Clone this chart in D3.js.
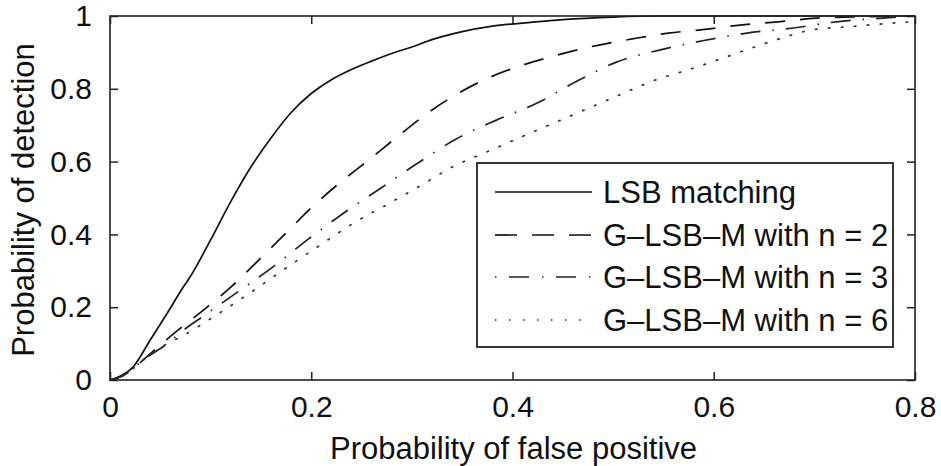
<!DOCTYPE html>
<html>
<head>
<meta charset="utf-8">
<script src="https://cdn.jsdelivr.net/npm/d3@7"></script>
<style>
  html, body { margin: 0; padding: 0; background: #fff; }
  svg { display: block; font-family: "Liberation Sans", Arial, sans-serif; }
</style>
</head>
<body>
<svg id="chart" width="941" height="466"></svg>
<script>
// ---- data ----
const lsbX = [0, .01, .023, .04, .057, .073, .08, .1, .12, .14, .16, .18, .2, .22, .24, .26, .28, .3, .32, .35, .38, .42, .45, .5, .55, .6, .7, .8];
const lsbY = [0, .01, .036, .11, .184, .256, .285, .385, .49, .585, .665, .735, .787, .825, .853, .876, .897, .915, .935, .957, .972, .983, .99, .997, 1, 1, 1, 1];

const n2X = [0, .01, .02, .033, .06, .095, .122, .149, .175, .2, .228, .256, .285, .313, .345, .377, .41, .445, .482, .519, .555, .591, .626, .664, .702, .75, .8];
const n2Y = [0, .008, .025, .055, .12, .197, .26, .333, .404, .473, .541, .602, .667, .728, .786, .831, .865, .893, .918, .937, .953, .963, .975, .984, .994, .998, 1];

const n3X = [0, .01, .02, .033, .057, .073, .093, .126, .163, .197, .233, .269, .306, .344, .384, .424, .462, .504, .547, .589, .633, .679, .722, .768, .8];
const n3Y = [0, .008, .025, .055, .1, .137, .176, .24, .313, .387, .46, .527, .596, .662, .714, .76, .818, .874, .907, .932, .953, .967, .984, .994, 1];

const n6X = [0, .01, .02, .033, .057, .07, .106, .139, .172, .209, .242, .278, .313, .338, .374, .425, .464, .502, .542, .58, .618, .656, .698, .737, .78, .8];
const n6Y = [0, .008, .025, .055, .1, .118, .179, .239, .302, .371, .431, .486, .541, .582, .626, .687, .733, .778, .824, .857, .893, .929, .962, .971, .981, .985];

const seriesNames = ["LSB matching", "G\u2013LSB\u2013M with n = 2", "G\u2013LSB\u2013M with n = 3", "G\u2013LSB\u2013M with n = 6"];
const xTicks = [0, 0.2, 0.4, 0.6, 0.8];
const xTickLabels = ["0", "0.2", "0.4", "0.6", "0.8"];
const yTicks = [0, 0.2, 0.4, 0.6, 0.8, 1];
const yTickLabels = ["0", "0.2", "0.4", "0.6", "0.8", "1"];
const xLabel = "Probability of false positive";
const yLabel = "Probability of detection";

// ---- layout ----
const L = 110, R = 915, T = 16, B = 380;
const svg = d3.select("#chart");
const x = d3.scaleLinear().domain([0, 0.8]).range([L, R]);
const y = d3.scaleLinear().domain([0, 1]).range([B, T]);

const styles = [
  { dash: null, w: 1.7, color: "#111" },
  { dash: "20,15", w: 1.7, color: "#111" },
  { dash: "20,12,1.5,12", w: 1.7, color: "#222" },
  { dash: "1.5,11.5", w: 1.7, color: "#333" }
];
const series = [
  lsbX.map((v, i) => [v, lsbY[i]]),
  n2X.map((v, i) => [v, n2Y[i]]),
  n3X.map((v, i) => [v, n3Y[i]]),
  n6X.map((v, i) => [v, n6Y[i]])
];

const line = d3.line().x(d => x(d[0])).y(d => y(d[1])).curve(d3.curveMonotoneX);

const fs = 30, fsl = 31;
const axisColor = "#222";

const gx = svg.append("g").attr("transform", `translate(0,${B})`)
  .call(d3.axisBottom(x).tickValues(xTicks).tickFormat((d, i) => xTickLabels[i]).tickSizeInner(-8).tickSizeOuter(0).tickPadding(16));
const gy = svg.append("g").attr("transform", `translate(${L},0)`)
  .call(d3.axisLeft(y).tickValues(yTicks).tickFormat((d, i) => yTickLabels[i]).tickSizeInner(-8).tickSizeOuter(0).tickPadding(18));
const gxt = svg.append("g").attr("transform", `translate(0,${T})`)
  .call(d3.axisTop(x).tickValues(xTicks).tickFormat("").tickSizeInner(-8).tickSizeOuter(0));
const gyr = svg.append("g").attr("transform", `translate(${R},0)`)
  .call(d3.axisRight(y).tickValues(yTicks).tickFormat("").tickSizeInner(-8).tickSizeOuter(0));

[gx, gy, gxt, gyr].forEach(g => {
  g.selectAll(".domain").remove();
  g.selectAll(".tick line").attr("stroke", axisColor).attr("stroke-width", 1.5);
  g.selectAll("text").attr("font-size", fs).attr("fill", "#111")
    .attr("font-family", "Liberation Sans, Arial, sans-serif");
});

series.forEach((s, i) => {
  svg.append("path").datum(s)
    .attr("d", line)
    .attr("fill", "none")
    .attr("stroke", styles[i].color)
    .attr("stroke-width", styles[i].w)
    .attr("stroke-dasharray", styles[i].dash)
    .attr("stroke-linecap", i === 3 ? "round" : "butt");
});

svg.append("rect").attr("x", L).attr("y", T).attr("width", R - L).attr("height", B - T)
  .attr("fill", "none").attr("stroke", axisColor).attr("stroke-width", 1.6);

const lg = svg.append("g");
lg.append("rect").attr("x", 477).attr("y", 163).attr("width", 416).attr("height", 184)
  .attr("fill", "#fff").attr("stroke", axisColor).attr("stroke-width", 1.8);
const rowY = [192, 235, 277, 320];
const legendDash = [null, "22,15", "1.5,12.5,20,13", "1.5,12.5"];
seriesNames.forEach((name, i) => {
  lg.append("line").attr("x1", 495).attr("x2", 592).attr("y1", rowY[i]).attr("y2", rowY[i])
    .attr("stroke", styles[i].color).attr("stroke-width", styles[i].w)
    .attr("stroke-dasharray", legendDash[i]);
  lg.append("text").attr("x", 603).attr("y", rowY[i] + 11).attr("font-size", fsl)
    .attr("fill", "#111").text(name);
});

svg.append("text").attr("x", (L + R) / 2 + 1).attr("y", 459).attr("text-anchor", "middle")
  .attr("font-size", fsl).attr("fill", "#111").text(xLabel);
svg.append("text").attr("transform", `translate(34,${(T + B) / 2 + 2}) rotate(-90)`)
  .attr("text-anchor", "middle").attr("font-size", fsl).attr("fill", "#111").text(yLabel);
</script>
</body>
</html>
